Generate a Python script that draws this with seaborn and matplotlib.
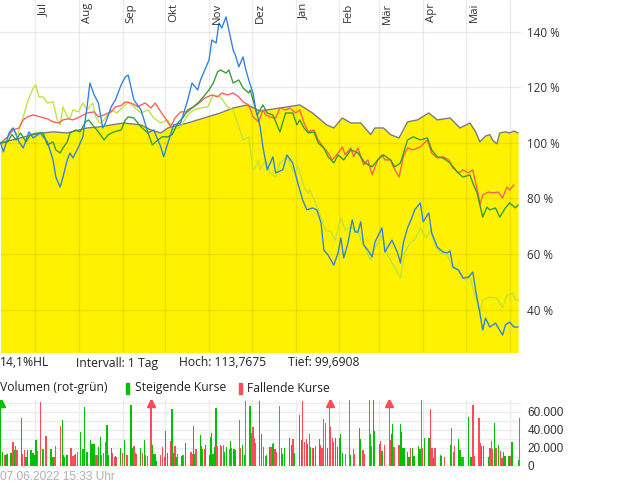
import matplotlib
matplotlib.use("Agg")
import matplotlib.pyplot as plt
import matplotlib.transforms as mtrans
import pandas as pd
import seaborn as sns
from matplotlib.patches import Rectangle

start = pd.Timestamp("2021-06-07")
end = pd.Timestamp("2022-06-07")

# ---- main instrument (grey line, yellow area), % of start value ----
grey_days = [0, 23, 30, 37, 47, 61, 70, 78, 87, 99, 106, 113, 118, 132, 146, 155, 164, 174,
             183, 197, 211, 220, 230, 235, 241, 247, 254, 261, 264, 270, 275, 281, 287, 294,
             302, 308, 317, 324, 331, 335, 338, 342, 345, 347, 350, 352, 356, 359, 362, 365]
grey = [100.0, 103.0, 103.6, 104.0, 103.6, 105.4, 105.8, 106.5, 107.2, 106.5, 104.7, 103.6, 105.4,
        107.2, 109.4, 110.8, 112.6, 113.7, 111.5, 112.6, 113.7, 110.8, 106.5, 105.4, 109.0, 107.2,
        107.2, 103.0, 105.4, 105.4, 103.0, 101.8, 107.6, 108.3, 110.8, 108.3, 109.0, 105.4, 107.2,
        104.0, 100.4, 102.5, 103.0, 101.0, 99.7, 103.6, 104.0, 103.6, 104.3, 103.6]

# ---- comparison series ----
blue_days = [0, 2, 6, 9, 13, 16, 20, 23, 28, 33, 37, 39, 42, 44, 47, 49, 51, 55, 58, 61, 63, 66, 69,
             72, 74, 78, 81, 85, 88, 90, 94, 99, 104, 108, 113, 115, 118, 122, 127, 132, 135, 139,
             141, 144, 147, 149, 152, 154, 156, 159, 161, 164, 166, 168, 171, 173, 175, 178, 180,
             183, 185, 188, 192, 194, 199, 202, 206, 209, 213, 216, 220, 223, 226, 228, 231, 235,
             238, 240, 242, 245, 248, 250, 252, 254, 256, 259, 262, 264, 269, 271, 276, 280, 282,
             284, 287, 290, 292, 296, 298, 302, 304, 308, 312, 315, 317, 319, 323, 326, 330, 333,
             335, 338, 340, 342, 345, 349, 354, 356, 359, 362, 365]
blue = [100.0, 96.8, 103.6, 105.4, 100.4, 98.2, 104.0, 101.8, 103.6, 100.4, 93.9, 87.7, 84.1, 87.7,
        93.9, 96.4, 94.6, 98.6, 102.2, 113.0, 121.6, 117.3, 114.4, 105.4, 107.2, 113.0, 115.5, 120.9,
        123.8, 124.5, 115.5, 111.9, 103.6, 104.7, 98.6, 95.0, 100.0, 106.5, 107.2, 115.5, 121.6,
        119.1, 122.7, 126.3, 129.9, 137.1, 136.0, 143.2, 141.4, 145.4, 140.7, 133.5, 131.0, 127.4,
        131.0, 126.3, 122.7, 118.0, 111.9, 106.0, 98.6, 90.3, 95.0, 89.2, 90.3, 95.7, 92.8, 86.7,
        79.5, 75.9, 76.6, 75.9, 71.2, 61.4, 59.6, 56.0, 60.4, 65.8, 58.6, 64.0, 72.3, 67.9, 67.9,
        71.6, 63.3, 61.4, 59.0, 64.3, 69.4, 60.7, 65.0, 60.4, 56.7, 64.0, 69.4, 73.0, 75.9, 78.4,
        71.6, 74.8, 67.6, 62.5, 60.7, 60.4, 61.1, 55.3, 54.2, 51.3, 51.7, 53.5, 47.0, 38.7, 32.6,
        36.9, 33.7, 35.1, 30.8, 34.4, 35.5, 33.7, 33.7]

lime_days = [0, 5, 8, 12, 16, 19, 23, 25, 27, 30, 33, 37, 40, 42, 44, 47, 49, 51, 55, 58, 61, 65,
             67, 70, 73, 78, 82, 90, 94, 99, 104, 108, 113, 118, 122, 127, 132, 136, 141, 146, 150,
             155, 160, 164, 168, 171, 175, 178, 180, 182, 183, 187, 190, 194, 197, 202, 207, 210,
             214, 217, 218, 222, 226, 229, 233, 236, 240, 243, 247, 252, 256, 261, 264, 269, 273,
             277, 282, 285, 289, 292, 296, 300, 303, 307, 310, 315, 319, 323, 328, 331, 333, 338,
             340, 345, 350, 354, 357, 361, 363, 365]
lime = [100.0, 102.2, 105.4, 103.0, 109.4, 114.8, 119.8, 120.9, 116.6, 116.6, 114.4, 114.8, 108.3,
        106.5, 113.0, 109.4, 109.0, 111.9, 111.2, 114.4, 111.9, 114.4, 109.4, 107.2, 108.3, 111.9,
        110.8, 114.8, 113.0, 110.8, 111.9, 109.0, 107.2, 108.3, 104.7, 105.8, 110.1, 111.9, 112.6,
        113.0, 117.3, 116.6, 113.0, 111.9, 105.8, 101.1, 102.2, 90.3, 91.4, 93.9, 90.3, 93.9, 89.2,
        87.7, 92.8, 95.0, 89.2, 91.4, 84.1, 82.0, 83.1, 78.4, 73.3, 68.6, 67.9, 65.0, 73.0, 68.6,
        69.7, 67.9, 63.3, 57.8, 62.2, 66.8, 59.6, 56.0, 51.3, 60.4, 64.3, 65.0, 69.4, 65.8, 68.6,
        62.5, 60.4, 59.6, 55.0, 54.2, 50.6, 51.7, 48.1, 38.7, 43.4, 44.5, 44.1, 40.5, 45.2, 45.9,
        43.4, 43.4]

red_days = [0, 5, 9, 13, 16, 19, 23, 28, 33, 37, 41, 44, 48, 51, 56, 61, 66, 69, 73, 78, 81, 85,
            88, 92, 97, 99, 102, 106, 109, 113, 116, 120, 123, 127, 132, 135, 140, 144, 149, 153,
            156, 160, 164, 168, 171, 175, 178, 182, 185, 187, 190, 194, 197, 201, 204, 208, 211,
            214, 217, 221, 224, 228, 231, 234, 238, 241, 243, 247, 249, 252, 256, 259, 262, 266,
            269, 271, 275, 277, 281, 284, 287, 291, 296, 301, 304, 308, 312, 316, 319, 323, 326,
            330, 333, 335, 337, 338, 340, 344, 347, 351, 354, 357, 359, 362]
red = [100.0, 102.2, 104.7, 105.4, 108.3, 109.4, 110.1, 109.4, 108.7, 107.6, 107.2, 108.3, 108.7,
       108.3, 109.4, 110.8, 111.2, 109.4, 110.1, 111.2, 113.0, 113.5, 114.8, 114.4, 113.0, 113.7,
       114.4, 112.6, 114.4, 111.2, 109.0, 105.8, 109.0, 111.2, 111.2, 112.6, 114.4, 116.2, 117.3,
       116.6, 118.0, 117.3, 118.0, 116.6, 114.8, 113.7, 109.4, 107.6, 111.9, 110.1, 109.4, 109.0,
       112.6, 111.9, 112.6, 110.8, 111.9, 107.2, 104.0, 104.7, 101.1, 98.2, 96.4, 93.9, 96.4, 98.6,
       95.7, 98.2, 95.0, 98.2, 92.1, 93.9, 88.5, 93.9, 95.7, 93.9, 93.9, 91.4, 87.7, 95.0, 98.2,
       97.5, 98.6, 101.1, 96.4, 94.6, 95.0, 93.9, 91.0, 89.2, 90.3, 89.2, 90.3, 85.6, 81.3, 77.7,
       81.3, 82.3, 82.0, 82.3, 80.2, 84.1, 83.1, 84.9]

green_days = [0, 5, 8, 11, 14, 18, 21, 26, 30, 33, 37, 39, 42, 44, 47, 49, 53, 56, 60, 62, 66, 69,
              73, 76, 80, 85, 88, 90, 94, 99, 104, 107, 111, 114, 118, 121, 125, 129, 132, 136, 140,
              143, 147, 150, 153, 155, 159, 161, 164, 168, 171, 175, 176, 178, 181, 185, 188, 192,
              197, 201, 206, 209, 211, 214, 217, 221, 224, 228, 231, 235, 238, 242, 247, 252, 257,
              262, 266, 270, 275, 278, 282, 287, 291, 296, 301, 304, 308, 312, 317, 322, 326, 331,
              333, 336, 338, 340, 343, 345, 349, 352, 356, 359, 363, 365]
green = [100.0, 100.4, 103.0, 101.1, 103.6, 100.4, 103.0, 103.6, 103.6, 99.3, 100.4, 97.5, 96.4,
         98.2, 100.4, 103.6, 104.7, 104.0, 107.6, 108.3, 105.8, 104.0, 101.1, 103.0, 104.0, 104.7,
         108.3, 109.4, 109.0, 105.8, 103.6, 99.3, 101.1, 102.2, 102.2, 103.0, 107.2, 109.4, 111.9,
         113.0, 114.8, 116.6, 119.1, 121.6, 125.6, 126.3, 125.2, 126.3, 121.6, 122.7, 119.8, 118.0,
         119.1, 115.5, 110.1, 113.7, 110.8, 110.1, 104.0, 110.8, 110.8, 106.5, 108.3, 105.4, 103.6,
         104.0, 100.0, 98.2, 95.0, 92.8, 95.7, 93.9, 97.5, 96.4, 92.8, 91.4, 93.9, 95.7, 93.9, 91.4,
         92.8, 101.1, 102.2, 101.1, 101.8, 97.5, 95.0, 94.6, 92.8, 89.6, 87.7, 88.5, 85.6, 82.0, 77.7,
         73.3, 76.9, 75.9, 76.6, 73.3, 76.6, 78.4, 76.6, 77.7]

# ---- volume (thousands), 1 = steigend, 0 = fallend ----
vol_days = [0.0, 1.6, 2.6, 3.8, 4.5, 7.3, 8.7, 9.6, 10.6, 11.5, 14.6, 15.7, 16.7, 17.9, 19.0, 21.4,
            22.8, 23.7, 24.9, 25.8, 28.4, 29.8, 30.5, 32.0, 35.5, 36.9, 37.8, 38.8, 42.5, 43.9, 44.6,
            45.3, 46.8, 49.6, 51.0, 51.9, 52.6, 54.0, 56.6, 58.0, 58.7, 59.4, 60.9, 63.4, 64.4, 65.8,
            66.7, 68.1, 69.3, 70.7, 71.4, 72.8, 73.8, 75.0, 75.9, 78.0, 78.7, 80.1, 80.8, 82.0, 84.8,
            85.8, 87.2, 89.1, 91.9, 92.8, 94.0, 94.9, 96.1, 98.9, 99.9, 101.3, 102.0, 103.4, 106.0,
            106.9, 108.1, 109.0, 109.7, 113.0, 114.0, 115.4, 116.5, 117.5, 120.1, 120.8, 122.2,
            123.1, 123.8, 125.0, 127.6, 128.3, 129.2, 130.6, 134.2, 134.9, 135.8, 136.7, 137.9,
            141.2, 141.9, 142.6, 143.6, 144.7, 147.1, 148.0, 149.0, 149.9, 151.1, 152.0, 152.7,
            155.1, 156.0, 157.0, 158.1, 159.5, 161.2, 162.1, 163.1, 164.7, 165.9, 168.5, 169.4,
            170.6, 172.2, 172.7, 175.8, 177.2, 178.1, 178.8, 179.7, 182.8, 184.2, 185.2, 186.6,
            187.5, 189.6, 190.8, 191.7, 192.7, 193.6, 194.3, 196.9, 198.1, 199.0, 200.2, 203.7,
            205.6, 206.3, 207.0, 211.0, 212.2, 213.1, 214.1, 215.5, 216.2, 218.0, 218.8, 219.9,
            220.9, 222.3, 225.1, 225.8, 226.7, 227.9, 229.3, 230.3, 232.0, 232.8, 234.0, 235.0,
            236.4, 237.5, 239.2, 239.9, 241.3, 243.2, 246.2, 246.9, 248.8, 249.5, 253.1, 254.0,
            255.6, 256.6, 260.1, 260.8, 261.7, 262.9, 263.6, 267.2, 267.9, 269.0, 270.7, 274.2,
            275.1, 275.8, 276.6, 277.5, 281.0, 282.0, 282.6, 283.6, 284.5, 287.1, 288.1, 289.2,
            290.4, 291.6, 294.9, 295.8, 296.8, 297.7, 299.1, 302.2, 303.1, 304.3, 305.5, 306.4,
            310.2, 311.1, 313.0, 317.4, 318.1, 319.3, 320.3, 322.8, 324.0, 325.0, 325.9, 326.6,
            329.9, 331.3, 332.2, 333.2, 334.1, 337.4, 338.3, 339.3, 340.7, 344.0, 345.2, 346.1,
            347.0, 348.2, 349.4, 351.3, 352.4, 353.6, 354.8, 355.7, 358.6, 359.5, 360.7, 365.1, 366.1]
vol_k = [90, 15.3, 12.3, 12.3, 13.0, 14.2, 26.8, 16.9, 21.8, 16.9, 53.6, 13.4, 16.9, 10.0, 16.9, 17.6,
         14.2, 12.3, 28.3, 16.1, 70.8, 18.0, 18.0, 33.0, 18.0, 10.0, 10.0, 21.8, 44.4, 51.3, 12.3,
         9.2, 12.3, 19.2, 11.1, 12.3, 13.0, 14.6, 37.9, 18.8, 18.0, 65.1, 15.3, 28.3, 23.8, 23.8,
         12.3, 12.3, 20.7, 32.2, 11.5, 14.2, 26.0, 45.6, 12.3, 19.2, 14.2, 10.0, 11.1, 10.0, 19.2,
         14.2, 28.3, 12.3, 67.4, 19.9, 21.4, 14.2, 13.0, 19.2, 14.2, 28.3, 12.3, 10.3, 90,
         22.6, 13.0, 13.0, 5.4, 12.3, 20.7, 10.0, 39.1, 14.2, 27.6, 62.8, 14.2,
         21.8, 10.0, 13.0, 10.3, 12.3, 11.5, 25.7, 14.6, 13.0, 44.8, 13.0, 18.0,
         34.5, 21.8, 18.0, 18.0, 23.0, 12.3, 31.4, 36.4, 13.4, 20.7, 64.3, 21.8,
         23.0, 21.8, 23.0, 14.6, 20.7, 18.0, 27.6, 19.2, 18.0, 17.2, 51.3, 19.2,
         23.0, 11.5, 72, 66.6, 36.4, 42.9, 30.6, 25.7, 72, 35.2, 20.7, 10.7,
         12.3, 20.7, 20.7, 24.5, 25.7, 18.4, 14.6, 66.6, 19.2, 13.0, 19.2, 30.6,
         22.6, 29.9, 13.8, 57.1, 28.3, 72, 26.0, 29.9, 24.5, 35.2, 21.1, 19.9,
         19.2, 21.4, 29.9, 23.0, 19.9, 52.5, 47.5, 19.2, 90, 43.3, 30.6, 26.8,
         30.6, 20.7, 30.6, 35.2, 13.8, 13.0, 73, 12.3, 18.0, 13.0, 42.5, 29.9,
         17.2, 13.0, 73, 35.2, 22.2, 73, 39.1, 23.8, 27.6, 16.1, 23.0, 90,
         29.1, 35.2, 46.7, 20.7, 22.6, 46.7, 37.1, 19.2, 19.2, 14.9, 10.0, 19.9,
         19.2, 10.3, 21.8, 18.0, 73, 19.2, 30.6, 30.6, 63.9, 19.2, 8.4, 19.2,
         11.5, 10.3, 10.0, 22.6, 42.1, 15.3, 21.8, 29.5, 16.9, 9.2, 9.2, 9.2,
         54.4, 10.0, 10.0, 67.8, 10.7, 53.6, 25.7, 21.8, 21.8, 10.0, 19.2, 27.6,
         18.0, 47.5, 19.2, 23.0, 16.1, 8.4, 15.3, 11.1, 10.3, 11.1, 26.0, 6.5, 53.6]
vol_up = [1, 1, 0, 1, 1, 1, 0, 1, 0, 0, 1, 0, 0, 1, 1, 1,
          1, 1, 1, 0, 0, 1, 0, 0, 1, 1, 0, 0, 0, 1, 1,
          1, 1, 0, 0, 0, 1, 0, 1, 1, 0, 1, 1, 1, 1, 1,
          0, 0, 1, 1, 0, 0, 0, 1, 1, 1, 0, 0, 1, 0, 1,
          0, 1, 0, 1, 1, 0, 0, 0, 1, 0, 1, 0, 0, 0,
          1, 1, 1, 1, 0, 0, 0, 1, 1, 0, 1, 1,
          0, 1, 0, 1, 1, 0, 1, 0, 0, 1, 1, 0,
          1, 1, 1, 0, 1, 1, 1, 1, 1, 1, 1, 0,
          0, 0, 0, 1, 1, 0, 1, 0, 1, 1, 0, 0,
          1, 1, 0, 1, 0, 0, 0, 0, 1, 1, 0, 0,
          1, 1, 0, 1, 1, 0, 0, 0, 1, 1, 1, 1,
          1, 0, 1, 1, 1, 0, 0, 0, 1, 0, 1, 0,
          1, 1, 1, 0, 0, 0, 0, 1, 0, 0, 0, 0,
          1, 1, 1, 1, 1, 0, 0, 1, 0, 0, 1, 1,
          0, 0, 0, 1, 0, 1, 1, 1, 0, 1, 0, 0,
          0, 1, 1, 0, 0, 1, 1, 1, 1, 1, 1, 0,
          1, 1, 1, 1, 0, 0, 1, 1, 0, 0, 1, 0,
          1, 1, 0, 1, 0, 0, 0, 1, 1, 0, 1, 0,
          1, 1, 1, 0, 0, 0, 0, 1, 1, 1, 0, 0,
          0, 1, 0, 1, 0, 0, 1, 1, 1, 0, 1, 1, 0]

months_de = ["Jan", "Feb", "Mär", "Apr", "Mai", "Jun", "Jul", "Aug", "Sep", "Okt", "Nov", "Dez"]
pct_ticks = [40, 60, 80, 100, 120, 140]

sns.set_theme(style="white")
plt.rcParams["font.family"] = ["Open Sans", "DejaVu Sans"]

colors = {"Hellgrün": "#bfe23a", "Rot": "#ff5b5b", "Grün": "#2f9a2f", "Blau": "#2a7fe0"}


def to_dates(days):
    return start + pd.to_timedelta(days, unit="D")


lines = pd.concat([
    pd.DataFrame({"datum": to_dates(d), "pct": v, "serie": n})
    for n, d, v in [("Hellgrün", lime_days, lime), ("Rot", red_days, red),
                    ("Grün", green_days, green), ("Blau", blue_days, blue)]
])
base = pd.DataFrame({"datum": to_dates(grey_days), "pct": grey})
vol = pd.DataFrame({"datum": to_dates(vol_days), "menge": [k * 1000 for k in vol_k], "up": vol_up})

fig = plt.figure(figsize=(6.2, 4.83), dpi=100)
W, H = 620, 483
ax = fig.add_axes([0, 1 - 352 / H, 521 / W, 352 / H])
axv = fig.add_axes([0, 1 - 466 / H, 521 / W, 66 / H])

xmin = start - pd.Timedelta(days=0.4)
xmax = start + pd.Timedelta(days=367)
month_starts = pd.date_range("2021-07-01", "2022-06-01", freq="MS")

# main panel
ax.fill_between(base["datum"], base["pct"], 0, color="#fff200", lw=0, zorder=1)
sns.lineplot(data=base, x="datum", y="pct", color="#7a7a7a", lw=1.0, ax=ax, zorder=3)
sns.lineplot(data=lines, x="datum", y="pct", hue="serie", palette=colors,
             hue_order=list(colors), estimator=None, sort=False, lw=0.95,
             legend=False, ax=ax, zorder=3)
ax.set_xlim(xmin, xmax)
ax.set_ylim(24.7, 151.5)
ax.set_xticks(month_starts)
ax.set_yticks(pct_ticks)
ax.set_yticklabels([f"{t} %" for t in pct_ticks])
ax.set_axisbelow("line")
ax.grid(True, color="black", alpha=0.08, lw=1)
ax.yaxis.tick_right()
ax.tick_params(axis="y", length=0, pad=4.5, labelsize=8.4, labelcolor="#333333")
ax.tick_params(axis="x", length=0, labelbottom=False)
ax.set_xlabel("")
ax.set_ylabel("")
for s in ax.spines.values():
    s.set_visible(False)

trans = mtrans.offset_copy(ax.get_xaxis_transform(), fig=fig, x=3, y=-3, units="dots")
for m in month_starts[:-1]:
    ax.text(m, 1.0, months_de[m.month - 1], rotation=90, ha="left", va="top",
            transform=trans, fontsize=8.2, color="#333333")

# volume panel
vtop = 73450
gcol = vol["up"].map({1: "#00c000", 0: "#ff4a58"})
axv.bar(vol["datum"], vol["menge"], width=0.9, color=gcol, lw=0, zorder=2)
over = vol[vol["menge"] > vtop]
for _, r in over.iterrows():
    axv.plot(r["datum"], 70300, marker="^", ms=5.5, lw=0,
             color="#00c000" if r["up"] else "#ff4a58", zorder=3)
axv.set_xlim(xmin, xmax)
axv.set_ylim(-560, vtop)
axv.set_xticks(month_starts)
axv.set_yticks(range(0, 70001, 10000))
axv.set_yticklabels([f"{v:,}".replace(",", ".") if v % 20000 == 0 else ""
                     for v in range(0, 70001, 10000)])
axv.grid(True, color="#ececec", lw=1, zorder=0)
axv.set_axisbelow(True)
axv.yaxis.tick_right()
axv.tick_params(axis="y", length=0, pad=4.5, labelsize=8.5, labelcolor="#333333")
for lab in axv.get_yticklabels():
    lab.set_family(["Liberation Sans", "DejaVu Sans"])
axv.tick_params(axis="x", length=0, labelbottom=False)
for s in axv.spines.values():
    s.set_visible(False)

# info rows
fy = lambda py: 1 - py / H
fx = lambda px: px / W
for px, txt in [(0, "14,1%HL"), (76, "Intervall: 1 Tag"), (179, "Hoch: 113,7675"),
                (288, "Tief: 99,6908")]:
    fig.text(fx(px), fy(363), txt, ha="left", va="center", fontsize=8.7, color="#222222")
for px, txt in [(0, "Volumen (rot-grün)"), (135, "Steigende Kurse"), (247, "Fallende Kurse")]:
    fig.text(fx(px), fy(388), txt, ha="left", va="center", fontsize=8.7, color="#222222")
fig.patches.append(Rectangle((fx(126), fy(394)), 3 / W, 11 / H, transform=fig.transFigure,
                             color="#00c000", figure=fig))
fig.patches.append(Rectangle((fx(239), fy(394)), 3 / W, 11 / H, transform=fig.transFigure,
                             color="#ff4a58", figure=fig))
fig.text(0, fy(477), end.strftime("%d.%m.%Y") + " 15:33 Uhr", ha="left", va="center",
         fontsize=8.6, color="#b0b0b0", family=["Liberation Sans", "DejaVu Sans"])

fig.savefig("out.png", dpi=100)
